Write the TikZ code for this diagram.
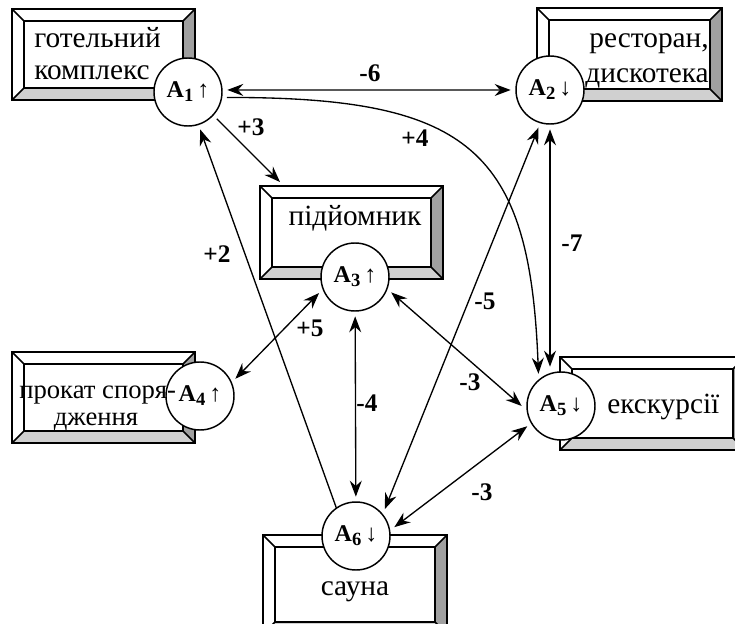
\documentclass[tikz,border=0pt]{standalone}
\usepackage{fontspec}
\setmainfont{Liberation Serif}
\usetikzlibrary{arrows.meta,calc}
\definecolor{bevdark}{HTML}{A0A0A0}
\definecolor{bevlight}{HTML}{D0D0D0}
\tikzset{
  >={Stealth[length=12pt,width=9pt,inset=4pt]},
  boxline/.style={line width=1.15pt,line join=miter},
  conn/.style={line width=1pt},
  state/.style={circle,draw,fill=white,line width=1.1pt,minimum size=51pt,inner sep=0pt,outer sep=4pt,font=\fontsize{18}{20}\selectfont},
  boxtext/.style={font=\fontsize{22}{26}\selectfont,inner sep=0pt,anchor=base},
  wlabel/.style={font=\fontsize{19}{21}\selectfont\bfseries,inner sep=0pt}
}
\newcommand\bevbox[5]{%
  \fill[white] (#2,#3) rectangle (#4,#5);
  \fill[bevdark] (#4,#3) -- (#4,#5) -- ({#4-12},{#5-12}) -- ({#4-12},{#3+12}) -- cycle;
  \fill[bevlight] (#2,#5) -- (#4,#5) -- ({#4-12},{#5-12}) -- ({#2+12},{#5-12}) -- cycle;
  \draw[boxline] (#2,#3) rectangle (#4,#5);
  \draw[boxline] ({#2+12},{#3+12}) rectangle ({#4-12},{#5-12});
  \draw[boxline] (#2,#3) -- ({#2+12},{#3+12});
  \draw[boxline] (#4,#3) -- ({#4-12},{#3+12});
  \draw[boxline] (#2,#5) -- ({#2+12},{#5-12});
  \draw[boxline] (#4,#5) -- ({#4-12},{#5-12});
  \coordinate (#1nw) at (#2,#3);
  \coordinate (#1se) at (#4,#5);
}
\newcommand\alab[2]{\textbf{A}\raisebox{-3pt}{\fontsize{14}{14}\selectfont\textbf{#1}}\,#2}
\begin{document}
\begin{tikzpicture}[x=0.75pt,y=-0.75pt]
\clip (0,0) rectangle (735,624);
\fill[white] (0,0) rectangle (735,624);
% boxes
\bevbox{b1}{12}{9}{195}{100}
\bevbox{b2}{537}{8}{722}{101}
\bevbox{b3}{260}{186}{443}{279}
\bevbox{b4}{12}{352}{195}{443}
\bevbox{b5}{560}{357}{745}{450}
\bevbox{b6}{263}{535}{447}{634}
% box texts
\node[boxtext,anchor=base west] (t1a) at (34,48) {готельний};
\node[boxtext,anchor=base west] (t1b) at (34,80) {комплекс};
\node[boxtext,anchor=base east] (t2a) at (709,48) {ресторан,};
\node[boxtext,anchor=base east] (t2b) at (709,83) {дискотека};
\node[boxtext] (t3) at (355,225) {підйомник};
\node[boxtext,anchor=base west] (t5) at (607,413) {екскурсії};
\node[boxtext] (t6) at (355,595) {сауна};
% state circles
\node[state] (a1) at (188,92) {\alab{1}{↑}};
\node[state] (a2) at (550,90) {\alab{2}{↓}};
\node[state] (a3) at (355,277) {\alab{3}{↑}};
\node[state] (a4) at (200,396) {\alab{4}{↑}};
\node[state] (a5) at (561,406) {\alab{5}{↓}};
\node[state] (a6) at (356,536) {\alab{6}{↓}};
% box 4 text lies over its circle
\node[boxtext,font=\fontsize{20}{24}\selectfont,anchor=base west] (t4a) at (19,398) {прокат споря-};
\node[boxtext,font=\fontsize{20}{24}\selectfont] (t4b) at (96,425) {дження};
\coordinate (c3) at ($(b3nw)+(20,-4)$);
% connectors
\draw[conn,<->] (a1.3) -- (a2.180);
\draw[conn,->] (a1.352) .. controls (470,97) and (530,150) .. (a5.125);
\draw[conn,->] (a1.317) -- (c3);
\draw[conn,->,shorten <=-4pt] (a6.123) -- (a1.288);
\draw[conn,<->] (a2.253) -- (a6.43);
\draw[conn,<->] (a2.south) -- (a2.south |- a5.north);
\draw[conn,<->] (a3.204) -- (a4.26);
\draw[conn,<->] (a3.337) -- (a5.180);
\draw[conn,<->] (a3) -- (a6);
\draw[conn,<->] (a5.211) -- (a6.13);
% labels
\node[wlabel] (l6) at (370,73) {-6};
\node[wlabel] (l3a) at (251,127) {+3};
\node[wlabel] (l4a) at (415,138) {+4};
\node[wlabel] (l2) at (217,254) {+2};
\node[wlabel] (l5a) at (485,301) {-5};
\node[wlabel] (l7) at (572,243) {-7};
\node[wlabel] (l5b) at (310,328) {+5};
\node[wlabel] (l3b) at (470,382) {-3};
\node[wlabel] (l4b) at (367,403) {-4};
\node[wlabel] (l3c) at (482,492) {-3};
\end{tikzpicture}
\end{document}
